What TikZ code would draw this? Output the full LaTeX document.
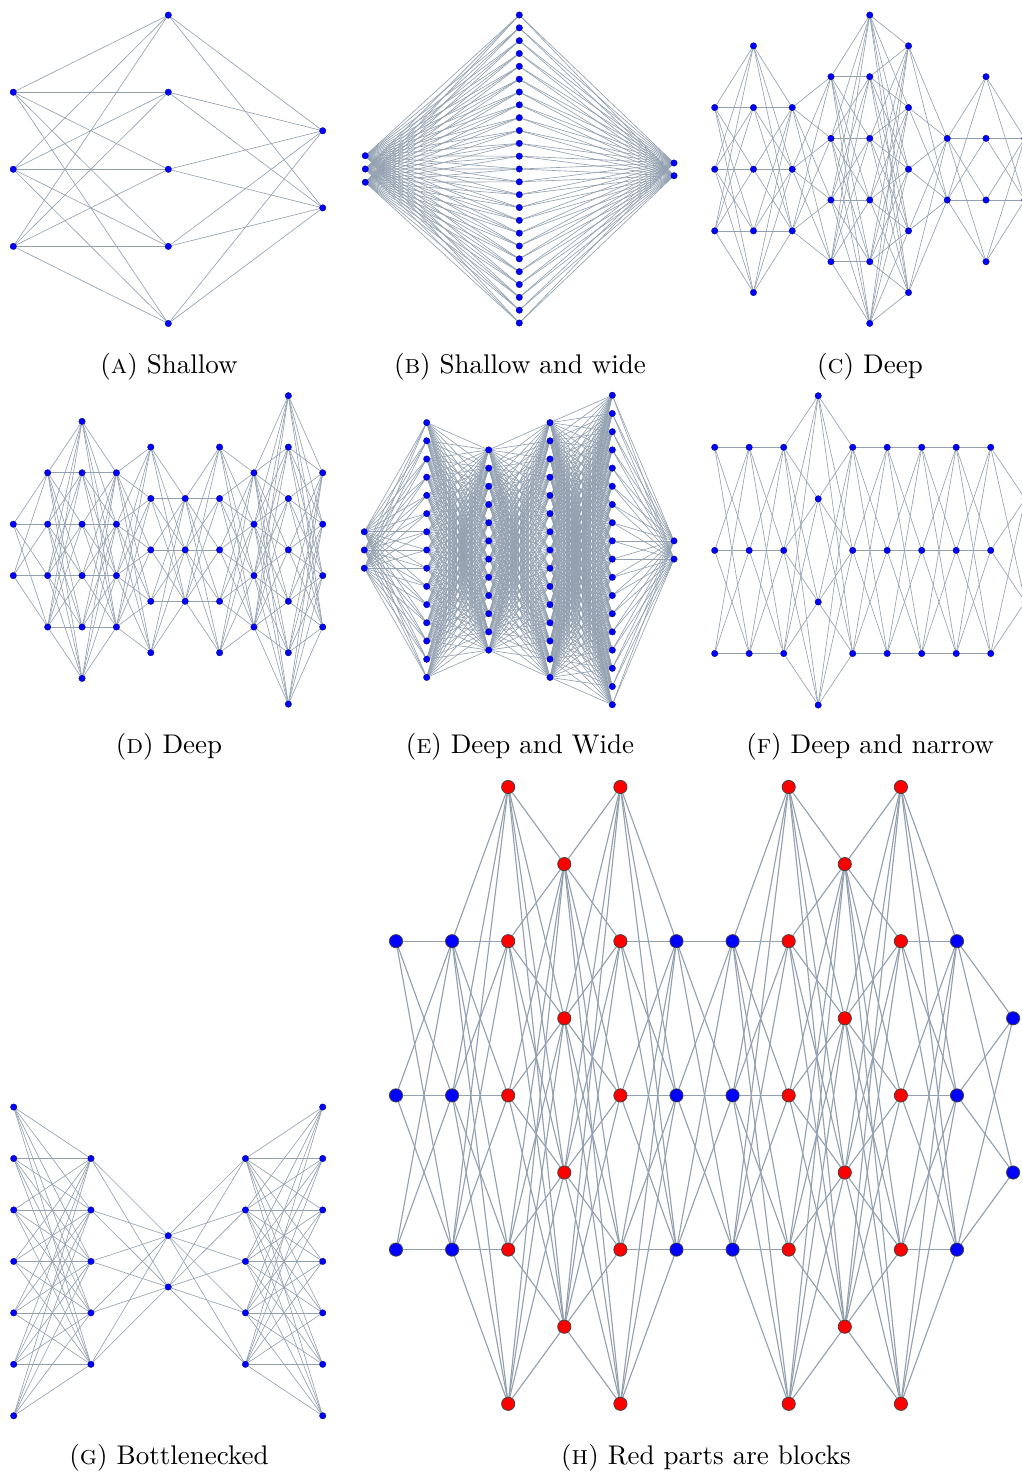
\documentclass[tikz,border=0pt]{standalone}
\pgfdeclarelayer{bg}
\pgfsetlayers{bg,main}
\definecolor{edgec}{RGB}{146,160,175}
\tikzset{
 sn/.style={circle,inner sep=0pt,minimum size=2.6pt,fill=blue,draw=blue!45!black,line width=0.12pt},
 hb/.style={circle,inner sep=0pt,minimum size=5.3pt,fill=blue,draw=black!75,line width=0.3pt},
 hr/.style={hb,fill=red},
 se/.style={draw=edgec,line width=0.25pt},
 he/.style={draw=edgec,line width=0.45pt},
 captext/.style={anchor=base,inner sep=0pt,font=\fontsize{10.8}{13}\selectfont},
}
% #1 style, #2 prefix, #3 layer, #4 x, #5 y0, #6 dy, #7 row list
\newcommand\NNrows[7]{\foreach \rr [count=\kk] in {#7} {\node[#1] (#2#3-\kk) at (#4,{#5+#6*\rr}) {};}}
% #1 style, #2 prefix, #3 layer a, #4 count a, #5 layer b, #6 count b
\newcommand\NNlink[6]{\begin{pgfonlayer}{bg}\foreach \pp in {1,...,#4}{\foreach \qq in {1,...,#6}{\draw[#1] (#2#3-\pp) -- (#2#5-\qq);}}\end{pgfonlayer}}
\begin{document}
\begin{tikzpicture}[x=0.4pt,y=-0.4pt]
\useasboundingbox (0,0) rectangle (1021,1474);
% ---------- (A) Shallow
\NNrows{sn}{A}{0}{13.3}{169.3}{77.1}{-1,0,1}
\NNrows{sn}{A}{1}{168.3}{169.3}{77.1}{-2,...,2}
\NNrows{sn}{A}{2}{322.7}{130.75}{77.1}{0,1}
\NNlink{se}{A}{0}{3}{1}{5}
\NNlink{se}{A}{1}{5}{2}{2}
% ---------- (B) Shallow and wide
\NNrows{sn}{B}{0}{365.3}{169}{13.3}{-1,0,1}
\NNrows{sn}{B}{1}{519.3}{15}{12.833}{0,...,24}
\NNrows{sn}{B}{2}{674}{163}{12.7}{0,1}
\NNlink{se}{B}{0}{3}{1}{25}
\NNlink{se}{B}{1}{25}{2}{2}
% ---------- (C) Deep
\NNrows{sn}{C}{0}{714.7}{169.2}{30.83}{-2,0,2}
\NNrows{sn}{C}{1}{753.46}{169.2}{30.83}{-4,-2,...,4}
\NNrows{sn}{C}{2}{792.22}{169.2}{30.83}{-2,0,2}
\NNrows{sn}{C}{3}{830.98}{169.2}{30.83}{-3,-1,1,3}
\NNrows{sn}{C}{4}{869.74}{169.2}{30.83}{-5,-3,-1,1,3,5}
\NNrows{sn}{C}{5}{908.5}{169.2}{30.83}{-4,-2,...,4}
\NNrows{sn}{C}{6}{947.26}{169.2}{30.83}{-1,1}
\NNrows{sn}{C}{7}{986.02}{169.2}{30.83}{-3,-1,1,3}
\NNrows{sn}{C}{8}{1024.78}{169.2}{30.83}{-1,1}
\NNlink{se}{C}{0}{3}{1}{5}
\NNlink{se}{C}{1}{5}{2}{3}
\NNlink{se}{C}{2}{3}{3}{4}
\NNlink{se}{C}{3}{4}{4}{6}
\NNlink{se}{C}{4}{6}{5}{5}
\NNlink{se}{C}{5}{5}{6}{2}
\NNlink{se}{C}{6}{2}{7}{4}
\NNlink{se}{C}{7}{4}{8}{2}
% ---------- (D) Deep
\NNrows{sn}{D}{0}{13.3}{549.9}{25.7}{-1,1}
\NNrows{sn}{D}{1}{47.68}{549.9}{25.7}{-3,-1,1,3}
\NNrows{sn}{D}{2}{82.06}{549.9}{25.7}{-5,-3,-1,1,3,5}
\NNrows{sn}{D}{3}{116.44}{549.9}{25.7}{-3,-1,1,3}
\NNrows{sn}{D}{4}{150.82}{549.9}{25.7}{-4,-2,...,4}
\NNrows{sn}{D}{5}{185.2}{549.9}{25.7}{-2,0,2}
\NNrows{sn}{D}{6}{219.58}{549.9}{25.7}{-4,-2,...,4}
\NNrows{sn}{D}{7}{253.96}{549.9}{25.7}{-3,-1,1,3}
\NNrows{sn}{D}{8}{288.34}{549.9}{25.7}{-6,-4,...,6}
\NNrows{sn}{D}{9}{322.72}{549.9}{25.7}{-3,-1,1,3}
\NNlink{se}{D}{0}{2}{1}{4}
\NNlink{se}{D}{1}{4}{2}{6}
\NNlink{se}{D}{2}{6}{3}{4}
\NNlink{se}{D}{3}{4}{4}{5}
\NNlink{se}{D}{4}{5}{5}{3}
\NNlink{se}{D}{5}{3}{6}{5}
\NNlink{se}{D}{6}{5}{7}{4}
\NNlink{se}{D}{7}{4}{8}{7}
\NNlink{se}{D}{8}{7}{9}{4}
% ---------- (E) Deep and Wide
\NNrows{sn}{E}{0}{364.3}{550}{18.2}{-1,0,1}
\NNrows{sn}{E}{1}{426.7}{550}{18.2}{-7,...,7}
\NNrows{sn}{E}{2}{488.7}{540.9}{18.2}{-5,...,6}
\NNrows{sn}{E}{3}{550}{550}{18.2}{-7,...,7}
\NNrows{sn}{E}{4}{612.3}{540.9}{18.2}{-8,...,9}
\NNrows{sn}{E}{5}{674}{540.9}{18.2}{0,1}
\NNlink{se}{E}{0}{3}{1}{15}
\NNlink{se}{E}{1}{15}{2}{12}
\NNlink{se}{E}{2}{12}{3}{15}
\NNlink{se}{E}{3}{15}{4}{18}
\NNlink{se}{E}{4}{18}{5}{2}
% ---------- (F) Deep and narrow
\NNrows{sn}{F}{0}{714.7}{550.4}{51.55}{-2,0,2}
\NNrows{sn}{F}{1}{749.2}{550.4}{51.55}{-2,0,2}
\NNrows{sn}{F}{2}{783.7}{550.4}{51.55}{-2,0,2}
\NNrows{sn}{F}{3}{818.2}{550.4}{51.55}{-3,-1,1,3}
\NNrows{sn}{F}{4}{852.7}{550.4}{51.55}{-2,0,2}
\NNrows{sn}{F}{5}{887.2}{550.4}{51.55}{-2,0,2}
\NNrows{sn}{F}{6}{921.7}{550.4}{51.55}{-2,0,2}
\NNrows{sn}{F}{7}{956.2}{550.4}{51.55}{-2,0,2}
\NNrows{sn}{F}{8}{990.7}{550.4}{51.55}{-2,0,2}
\NNrows{sn}{F}{9}{1025.2}{550.4}{51.55}{-1,1}
\NNlink{se}{F}{0}{3}{1}{3}
\NNlink{se}{F}{1}{3}{2}{3}
\NNlink{se}{F}{2}{3}{3}{4}
\NNlink{se}{F}{3}{4}{4}{3}
\NNlink{se}{F}{4}{3}{5}{3}
\NNlink{se}{F}{5}{3}{6}{3}
\NNlink{se}{F}{6}{3}{7}{3}
\NNlink{se}{F}{7}{3}{8}{3}
\NNlink{se}{F}{8}{3}{9}{2}
% ---------- (G) Bottlenecked
\NNrows{sn}{G}{0}{13.7}{1261.4}{51.45}{-3,...,3}
\NNrows{sn}{G}{1}{90.95}{1261.4}{51.45}{-2,...,2}
\NNrows{sn}{G}{2}{168.2}{1235.7}{51.3}{0,1}
\NNrows{sn}{G}{3}{245.45}{1261.4}{51.45}{-2,...,2}
\NNrows{sn}{G}{4}{322.7}{1261.4}{51.45}{-3,...,3}
\NNlink{se}{G}{0}{7}{1}{5}
\NNlink{se}{G}{1}{5}{2}{2}
\NNlink{se}{G}{2}{2}{3}{5}
\NNlink{se}{G}{3}{5}{4}{7}
% ---------- (H) Red parts are blocks
\NNrows{hb}{H}{0}{396}{1095.4}{77.1}{-2,0,2}
\NNrows{hb}{H}{1}{452.1}{1095.4}{77.1}{-2,0,2}
\NNrows{hr}{H}{2}{508.2}{1095.4}{77.1}{-4,-2,...,4}
\NNrows{hr}{H}{3}{564.3}{1095.4}{77.1}{-3,-1,1,3}
\NNrows{hr}{H}{4}{620.4}{1095.4}{77.1}{-4,-2,...,4}
\NNrows{hb}{H}{5}{676.5}{1095.4}{77.1}{-2,0,2}
\NNrows{hb}{H}{6}{732.6}{1095.4}{77.1}{-2,0,2}
\NNrows{hr}{H}{7}{788.7}{1095.4}{77.1}{-4,-2,...,4}
\NNrows{hr}{H}{8}{844.8}{1095.4}{77.1}{-3,-1,1,3}
\NNrows{hr}{H}{9}{900.9}{1095.4}{77.1}{-4,-2,...,4}
\NNrows{hb}{H}{10}{957}{1095.4}{77.1}{-2,0,2}
\NNrows{hb}{H}{11}{1013.1}{1095.4}{77.1}{-1,1}
\NNlink{he}{H}{0}{3}{1}{3}
\NNlink{he}{H}{1}{3}{2}{5}
\NNlink{he}{H}{2}{5}{3}{4}
\NNlink{he}{H}{3}{4}{4}{5}
\NNlink{he}{H}{4}{5}{5}{3}
\NNlink{he}{H}{5}{3}{6}{3}
\NNlink{he}{H}{6}{3}{7}{5}
\NNlink{he}{H}{7}{5}{8}{4}
\NNlink{he}{H}{8}{4}{9}{5}
\NNlink{he}{H}{9}{5}{10}{3}
\NNlink{he}{H}{10}{3}{11}{2}
% ---------- captions
\node[captext] (capA) at (169,373) {(\textsc{a}) Shallow};
\node[captext] (capB) at (520,373) {(\textsc{b}) Shallow and wide};
\node[captext] (capC) at (870,373) {(\textsc{c}) Deep};
\node[captext] (capD) at (169,753) {(\textsc{d}) Deep};
\node[captext] (capE) at (520,753) {(\textsc{e}) Deep and Wide};
\node[captext] (capF) at (870,753) {(\textsc{f}) Deep and narrow};
\node[captext] (capG) at (169,1464) {(\textsc{g}) Bottlenecked};
\node[captext] (capH) at (706,1464) {(\textsc{h}) Red parts are blocks};
\end{tikzpicture}
\end{document}
